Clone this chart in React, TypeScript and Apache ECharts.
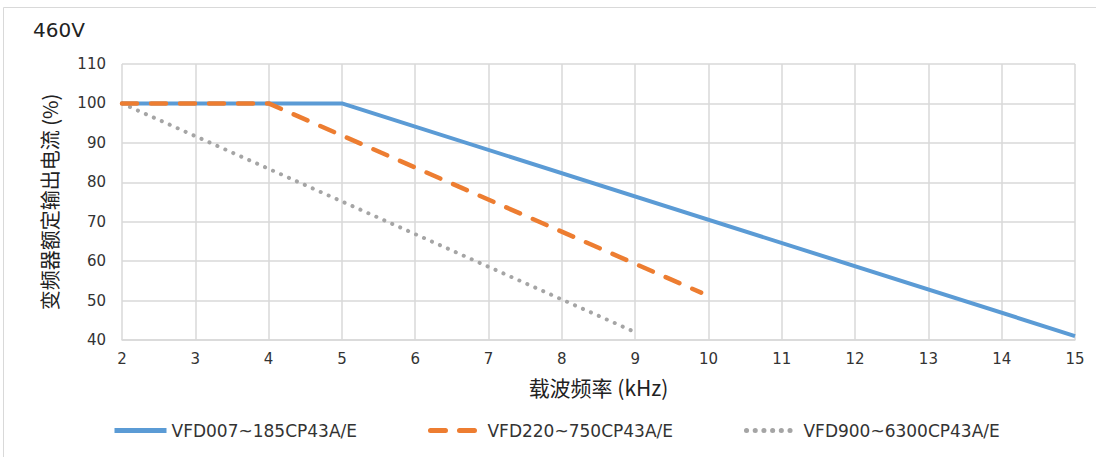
import React, { useEffect, useRef } from "react";
import * as echarts from "echarts";

const title = "460V";
const xAxisName = "载波频率 (kHz)";
const yAxisName = "变频器额定输出电流 (%)";
const seriesNames = ["VFD007~185CP43A/E", "VFD220~750CP43A/E", "VFD900~6300CP43A/E"];
const blueData: [number, number][] = [[2, 100], [5, 100], [15, 41]];
const orangeData: [number, number][] = [[2, 100], [4, 100], [9.9, 52]];
const grayData: [number, number][] = [[2, 100], [9, 42]];

export default function App() {
  const ref = useRef<HTMLDivElement>(null);
  useEffect(() => {
    document.body.style.margin = "0";
    const chart = echarts.init(ref.current!, null, { renderer: "svg" });
    const font = "'DejaVu Sans', 'Noto Sans CJK SC', sans-serif";
    const cjk = "'Noto Sans CJK SC', sans-serif";
    chart.setOption({
      animation: false,
      backgroundColor: "#fff",
      textStyle: { fontFamily: font },
      graphic: [
        {
          type: "rect",
          shape: { x: 3.5, y: 7.5, width: 1200, height: 600 },
          style: { fill: "none", stroke: "#d9d9d9", lineWidth: 1 },
          silent: true,
        },
        {
          type: "text",
          left: 33,
          top: 20,
          style: { text: title, fontSize: 20, fill: "#222", fontFamily: font },
        },
      ],
      grid: { left: 122, right: 21, top: 64, bottom: 117 },
      legend: {
        bottom: 13,
        left: 107,
        itemWidth: 52,
        itemHeight: 12,
        itemGap: 71,
        itemStyle: { opacity: 0 },
        lineStyle: { width: 5 },
        textStyle: { fontSize: 17, color: "#333", fontFamily: font },
        data: seriesNames,
      },
      xAxis: {
        type: "value",
        min: 2,
        max: 15,
        interval: 1,
        name: xAxisName,
        nameLocation: "middle",
        nameGap: 36,
        nameTextStyle: { fontSize: 21, color: "#222", fontFamily: cjk },
        axisLine: { show: true, lineStyle: { color: "#d9d9d9", width: 1.5 } },
        axisTick: { show: false },
        axisLabel: { fontSize: 15, color: "#333", margin: 11, fontFamily: font },
        splitLine: { show: true, lineStyle: { color: "#d9d9d9", width: 1.5 } },
      },
      yAxis: {
        type: "value",
        min: 40,
        max: 110,
        interval: 10,
        name: yAxisName,
        nameLocation: "middle",
        nameGap: 63,
        nameTextStyle: { fontSize: 20, color: "#222", fontFamily: cjk },
        axisLine: { show: false },
        axisTick: { show: false },
        axisLabel: { fontSize: 15, color: "#333", margin: 16, fontFamily: font },
        splitLine: { show: true, lineStyle: { color: "#d9d9d9", width: 1.5 } },
      },
      series: [
        {
          name: seriesNames[0],
          type: "line",
          data: blueData,
          symbol: "none",
          color: "#5B9BD5",
          lineStyle: { color: "#5B9BD5", width: 4 },
          z: 3,
        },
        {
          name: seriesNames[1],
          type: "line",
          data: orangeData,
          symbol: "none",
          color: "#ED7D31",
          lineStyle: { color: "#ED7D31", width: 4.5, type: [15, 14], cap: "round" },
          z: 4,
        },
        {
          name: seriesNames[2],
          type: "line",
          data: grayData,
          symbol: "none",
          color: "#A5A5A5",
          lineStyle: { color: "#A5A5A5", width: 4, type: [0.1, 8.6], cap: "round" },
          z: 2,
        },
      ],
    });
    return () => chart.dispose();
  }, []);
  return <div ref={ref} style={{ position: "absolute", left: 0, top: 0, width: 1096, height: 457 }} />;
}
